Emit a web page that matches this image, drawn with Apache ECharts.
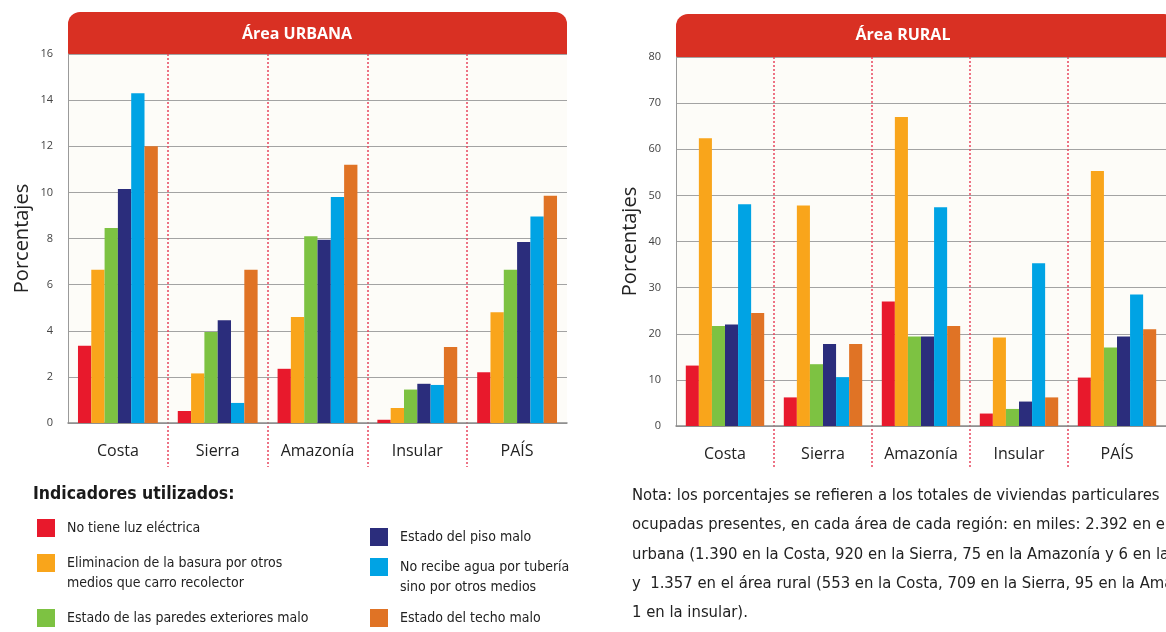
<!DOCTYPE html>
<html>
<head>
<meta charset="utf-8">
<script src="https://cdn.jsdelivr.net/npm/echarts@6/dist/echarts.min.js"></script>
<style>
  html, body { margin: 0; padding: 0; background: #fff; overflow: hidden; }
  #chart { width: 1166px; height: 632px; }
</style>
</head>
<body>
<div id="chart"></div>
<script>
const regiones = ['Costa', 'Sierra', 'Amazonía', 'Insular', 'PAÍS'];

const indicadores = [
  'No tiene luz eléctrica',
  'Eliminacion de la basura por otros\nmedios que carro recolector',
  'Estado de las paredes exteriores malo',
  'Estado del piso malo',
  'No recibe agua por tubería\nsino por otros medios',
  'Estado del techo malo'
];
const colores = ['#e8192c', '#f9a51b', '#7dc242', '#2b2d7c', '#00a3e4', '#e07325'];

// Área urbana (%)
const urbLuz = [3.35, 0.52, 2.35, 0.14, 2.2];
const urbBasura = [6.65, 2.15, 4.6, 0.65, 4.8];
const urbParedes = [8.45, 3.95, 8.1, 1.45, 6.65];
const urbPiso = [10.15, 4.45, 7.95, 1.7, 7.85];
const urbAgua = [14.3, 0.87, 9.8, 1.65, 8.95];
const urbTecho = [12.0, 6.65, 11.2, 3.3, 9.85];

// Área rural (%)
const rurLuz = [13.1, 6.2, 27.0, 2.7, 10.5];
const rurBasura = [62.4, 47.8, 67.0, 19.2, 55.3];
const rurParedes = [21.7, 13.4, 19.4, 3.7, 17.0];
const rurPiso = [22.0, 17.8, 19.4, 5.3, 19.4];
const rurAgua = [48.1, 10.6, 47.4, 35.3, 28.5];
const rurTecho = [24.5, 17.8, 21.7, 6.2, 21.0];

const urbana = [urbLuz, urbBasura, urbParedes, urbPiso, urbAgua, urbTecho];
const rural = [rurLuz, rurBasura, rurParedes, rurPiso, rurAgua, rurTecho];

const nota = [
  'Nota: los porcentajes se refieren a los totales de viviendas particulares',
  'ocupadas presentes, en cada área de cada región: en miles: 2.392 en el área',
  'urbana (1.390 en la Costa, 920 en la Sierra, 75 en la Amazonía y 6 en la insular)',
  'y  1.357 en el área rural (553 en la Costa, 709 en la Sierra, 95 en la Amazonía y',
  '1 en la insular).'
];

const sansFont = '"Open Sans", "Noto Sans", sans-serif';
const narrowFont = '"Liberation Sans Narrow", "DejaVu Sans Condensed", "Roboto", sans-serif';

const chart = echarts.init(document.getElementById('chart'));

// plot areas
const grids = [
  { left: 68, top: 54, width: 499, height: 369 },
  { left: 676, top: 57, width: 500, height: 369 },
  // helpers for the dotted separators that run into the label area
  { left: 68, top: 54, width: 499, height: 413 },
  { left: 676, top: 57, width: 500, height: 412 }
];

function catAxis(gridIndex) {
  return {
    type: 'category',
    gridIndex: gridIndex,
    data: regiones,
    axisLine: { lineStyle: { color: '#8a8a8a', width: 1.5 } },
    axisTick: { show: false },
    axisLabel: { fontSize: 16, color: '#222', margin: 20, fontFamily: sansFont }
  };
}

function valAxis(gridIndex, max, interval) {
  return {
    type: 'value',
    gridIndex: gridIndex,
    min: 0,
    max: max,
    interval: interval,
    name: 'Porcentajes',
    nameLocation: 'middle',
    nameRotate: 90,
    nameGap: 36,
    nameTextStyle: { fontSize: 20, color: '#222', fontFamily: sansFont },
    axisLine: { show: true, lineStyle: { color: '#9a9a9a', width: 1 } },
    axisTick: { show: false },
    axisLabel: { fontSize: 11, color: '#444', margin: 15, fontFamily: sansFont },
    splitLine: { lineStyle: { color: '#a3a3a3', width: 1.2 } }
  };
}

function sepAxis(gridIndex) {
  return {
    type: 'value',
    gridIndex: gridIndex,
    min: 0,
    max: 5,
    interval: 1,
    axisLine: { show: false },
    axisTick: { show: false },
    axisLabel: { show: false },
    splitLine: {
      show: true,
      showMinLine: false,
      showMaxLine: false,
      lineStyle: { color: '#e8455e', width: 1.5, type: [2, 2] }
    }
  };
}

function hiddenY(gridIndex) {
  return { type: 'value', gridIndex: gridIndex, show: false, min: 0, max: 1, splitLine: { show: false } };
}

const series = [];
indicadores.forEach((name, i) => {
  series.push({
    name: name, type: 'bar', xAxisIndex: 0, yAxisIndex: 0,
    data: urbana[i], itemStyle: { color: colores[i] },
    barGap: '0%', barCategoryGap: '20%'
  });
});
indicadores.forEach((name, i) => {
  series.push({
    name: name, type: 'bar', xAxisIndex: 1, yAxisIndex: 1,
    data: rural[i], itemStyle: { color: colores[i] },
    barGap: '0%', barCategoryGap: '20%'
  });
});

// one legend per indicator so each can sit where the original puts it.
// two-line labels get an empty first line so the square lines up with line 1
const legendPos = [
  { left: 37, top: 518 },
  { left: 37, top: 533 },
  { left: 37, top: 608 },
  { left: 370, top: 527 },
  { left: 370, top: 537 },
  { left: 370, top: 608 }
];
const legends = legendPos.map((p, i) => ({
  data: [indicadores[i]],
  left: p.left,
  top: p.top,
  padding: 0,
  icon: 'rect',
  itemWidth: 18,
  itemHeight: 18,
  selectedMode: false,
  formatter: name => (name.indexOf('\n') >= 0 ? ' \n' + name : name),
  textStyle: {
    fontSize: 14,
    lineHeight: 20,
    color: '#222',
    fontFamily: narrowFont,
    padding: [0, 0, 0, 7]
  }
}));

const graphics = [
  // plot backgrounds
  { type: 'rect', z: -10, shape: { x: 68, y: 54, width: 499, height: 369 }, style: { fill: '#fdfcf8' } },
  { type: 'rect', z: -10, shape: { x: 676, y: 57, width: 500, height: 369 }, style: { fill: '#fdfcf8' } },
  // red headers
  { type: 'rect', shape: { x: 68, y: 12, width: 499, height: 42, r: [12, 12, 0, 0] }, style: { fill: '#d93023' } },
  { type: 'rect', shape: { x: 676, y: 14, width: 500, height: 43, r: [12, 12, 0, 0] }, style: { fill: '#d93023' } },
  { type: 'text', x: 297, y: 34, style: { text: 'Área URBANA', fill: '#fff', font: 'bold 16px ' + sansFont, textAlign: 'center', textVerticalAlign: 'middle' } },
  { type: 'text', x: 903, y: 35, style: { text: 'Área RURAL', fill: '#fff', font: 'bold 16px ' + sansFont, textAlign: 'center', textVerticalAlign: 'middle' } },
  // legend title
  { type: 'text', x: 33, y: 494, style: { text: 'Indicadores utilizados:', fill: '#1a1a1a', font: 'bold 17.5px ' + narrowFont, textVerticalAlign: 'middle' } }
];
nota.forEach((line, i) => {
  graphics.push({
    type: 'text', x: 632, y: 496 + i * 29.2,
    style: { text: line, fill: '#222', font: '16.5px ' + narrowFont, textVerticalAlign: 'middle' }
  });
});

const option = {
  animation: false,
  grid: grids,
  xAxis: [catAxis(0), catAxis(1), sepAxis(2), sepAxis(3)],
  yAxis: [valAxis(0, 16, 2), valAxis(1, 80, 10), hiddenY(2), hiddenY(3)],
  legend: legends,
  series: series,
  graphic: graphics
};

chart.setOption(option);
</script>
</body>
</html>
